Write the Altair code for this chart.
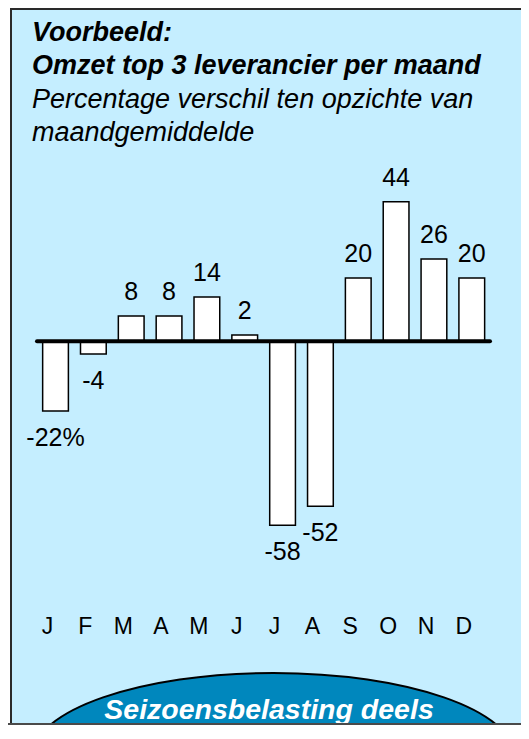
import altair as alt
import pandas as pd

months = ["J", "F", "M", "A", "M", "J", "J", "A", "S", "O", "N", "D"]
values = [-22, -4, 8, 8, 14, 2, -58, -52, 20, 44, 26, 20]
labels = ["-22%", "-4", "8", "8", "14", "2", "-58", "-52", "20", "44", "26", "20"]
title_lines = ["Voorbeeld:", "Omzet top 3 leverancier per maand"]
subtitle_lines = ["Percentage verschil ten opzichte van", "maandgemiddelde"]
banner = "Seizoensbelasting deels"

df = pd.DataFrame({"idx": list(range(len(months))), "month": months,
                   "value": values, "label": labels})
one = pd.DataFrame({"zero": [0]})

W, H = 513, 717
FONT = "Liberation Sans"
BG = "#C5EEFF"
BLUE = "#0087BD"

xenc = alt.X("idx:O", scale=alt.Scale(range=[28.6, 482.7], paddingInner=0.32,
                                      paddingOuter=0.16), axis=None)
yscale = alt.Scale(domain=[-60, 50], range=[523.5, 174.8], nice=False, zero=False)

box = alt.Chart(one).mark_rect(fill=BG).encode(
    x=alt.value(3), x2=alt.value(W), y=alt.value(0), y2=alt.value(H))
left_border = alt.Chart(one).mark_rule(color="#2a2a2a", strokeWidth=2).encode(
    x=alt.value(3), y=alt.value(0), y2=alt.value(H))
top_border = alt.Chart(one).mark_rule(color="#2a2a2a", strokeWidth=2).encode(
    x=alt.value(2), x2=alt.value(W), y=alt.value(1))

bars = alt.Chart(df).mark_bar(fill="white", stroke="black", strokeWidth=1.5).encode(
    x=xenc,
    y=alt.Y("value:Q", scale=yscale, axis=None, stack=None),
    y2=alt.Y2("zero:Q"),
).transform_calculate(zero="0")

zero_line = alt.Chart(one).mark_rule(color="black", strokeWidth=4, strokeCap="round").encode(
    x=alt.value(29), x2=alt.value(482),
    y=alt.Y("zero:Q", scale=yscale, axis=None))

pos_labels = alt.Chart(df).transform_filter("datum.value >= 0").mark_text(
    font=FONT, fontSize=25, baseline="alphabetic", dy=-16, color="black").encode(
    x=xenc, y=alt.Y("value:Q", scale=yscale, axis=None), text="label:N")

neg_labels = alt.Chart(df).transform_filter("datum.value < 0").mark_text(
    font=FONT, fontSize=25, baseline="alphabetic", dy=35, color="black").encode(
    x=xenc, y=alt.Y("value:Q", scale=yscale, axis=None), text="label:N")

month_labels = alt.Chart(df).mark_text(
    font=FONT, fontSize=23, baseline="alphabetic", dx=-8, color="black").encode(
    x=xenc, y=alt.value(626), text="month:N")

title_layers = []
for i, t in enumerate(title_lines):
    title_layers.append(alt.Chart(one).mark_text(
        text=t, font=FONT, fontSize=27, fontWeight="bold", fontStyle="italic",
        align="left", baseline="alphabetic", color="black").encode(
        x=alt.value(24), y=alt.value(33 + 33 * i)))
for i, t in enumerate(subtitle_lines):
    title_layers.append(alt.Chart(one).mark_text(
        text=t, font=FONT, fontSize=27, fontStyle="italic",
        align="left", baseline="alphabetic", color="black").encode(
        x=alt.value(24), y=alt.value(100 + 33 * i)))

r, rk, k = 0.3467, 0.1915, 0.5523
ellipse_path = (f"M-1,0C-1,{-rk},{-k},{-r},0,{-r}C{k},{-r},1,{-rk},1,0"
                f"C1,{rk},{k},{r},0,{r}C{-k},{r},-1,{rk},-1,0Z")
ellipse = alt.Chart(one).mark_point(
    shape=ellipse_path, filled=True, fill=BLUE, stroke="black", strokeWidth=2,
    opacity=1, fillOpacity=1, size=482 * 482).encode(
    x=alt.value(265.5), y=alt.value(748.5))

banner_text = alt.Chart(one).mark_text(
    text=banner, font=FONT, fontSize=28.5, fontWeight="bold", fontStyle="italic",
    align="center", baseline="alphabetic", color="white").encode(
    x=alt.value(261), y=alt.value(711))

bottom_line = alt.Chart(one).mark_rule(color="#4a4a4a", strokeWidth=2).encode(
    x=alt.value(0), x2=alt.value(W), y=alt.value(H - 1))

chart = alt.layer(
    box, left_border, top_border, bars, zero_line, pos_labels, neg_labels,
    month_labels, *title_layers, ellipse, banner_text, bottom_line
).properties(
    width=W, height=H, padding=0, background="white",
    autosize=alt.AutoSizeParams(type="none"),
).configure_view(stroke=None)

chart.save("out.html", embed_options={"renderer": "svg", "actions": False})
